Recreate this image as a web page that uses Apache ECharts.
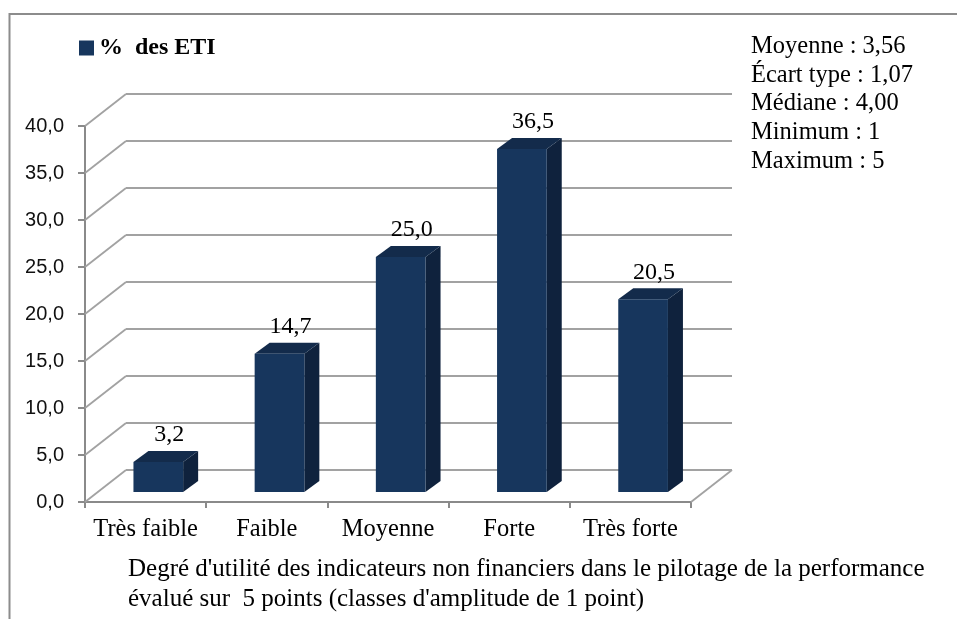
<!DOCTYPE html>
<html>
<head>
<meta charset="utf-8">
<script src="https://cdn.jsdelivr.net/npm/echarts@6/dist/echarts.min.js"></script>
<style>
  html, body { margin: 0; padding: 0; background: #fff; }
  #chart { width: 957px; height: 619px; }
</style>
</head>
<body>
<div id="chart"></div>
<script>
// Data
const categories = ['Très faible', 'Faible', 'Moyenne', 'Forte', 'Très forte'];
const shares = [3.2, 14.7, 25.0, 36.5, 20.5];
const yTicks = [0, 5, 10, 15, 20, 25, 30, 35, 40];
const seriesName = '%  des ETI';
const statLines = [
  'Moyenne : 3,56',
  'Écart type : 1,07',
  'Médiane : 4,00',
  'Minimum : 1',
  'Maximum : 5'
];
const axisTitle = [
  "Degré d'utilité des indicateurs non financiers dans le pilotage de la performance",
  "évalué sur  5 points (classes d'amplitude de 1 point)"
];

// Perspective offsets for the pseudo-3D look
const WALL_DX = 41, WALL_DY = -32;     // front plane -> back wall
const BAR_FX = 12.7, BAR_FY = -10;     // front plane -> bar front face
const BAR_DX = 15, BAR_DY = -11;       // bar depth
const BAR_RATIO = 0.41;                // bar width / category band

const GRID_COLOR = '#a2a2a2';
const AXIS_COLOR = '#8a8a8a';
const FRONT = '#17365d';
const SIDE = '#0f223d';
const TOP = '#132b4b';
const SERIF = '"Liberation Serif", "Times New Roman", serif';
const SANS = '"Liberation Sans", Arial, sans-serif';

const fmt = v => v.toFixed(1).replace('.', ',');

const chart = echarts.init(document.getElementById('chart'), null, { renderer: 'canvas' });

function renderWalls(params, api) {
  const v = api.value(1);
  const band = api.size([1, 0])[0];
  const n = categories.length;
  const left = api.coord([0, v]);
  const right = api.coord([n - 1, v]);
  const lx = left[0] - band / 2, ly = left[1];
  const rx = right[0] + band / 2;
  const style = { stroke: GRID_COLOR, lineWidth: 1.8, fill: null };
  const children = [
    { type: 'line', shape: { x1: lx, y1: ly, x2: lx + WALL_DX, y2: ly + WALL_DY }, style },
    { type: 'line', shape: { x1: lx + WALL_DX, y1: ly + WALL_DY, x2: rx + WALL_DX, y2: ly + WALL_DY }, style }
  ];
  if (v === 0) {
    children.push({ type: 'line', shape: { x1: rx, y1: ly, x2: rx + WALL_DX, y2: ly + WALL_DY }, style });
  }
  return { type: 'group', children };
}

function renderBar(params, api) {
  const i = api.value(0);
  const v = api.value(1);
  const top = api.coord([i, v]);
  const base = api.coord([i, 0]);
  const band = api.size([1, 0])[0];
  const w = band * BAR_RATIO;
  const x0 = top[0] - w / 2 + BAR_FX;
  const x1 = x0 + w;
  const yT = top[1] + BAR_FY;
  const yB = base[1] + BAR_FY;
  return {
    type: 'group',
    children: [
      { type: 'polygon', shape: { points: [[x1, yT], [x1 + BAR_DX, yT + BAR_DY], [x1 + BAR_DX, yB + BAR_DY], [x1, yB]] }, style: { fill: SIDE } },
      { type: 'polygon', shape: { points: [[x0, yT], [x0 + BAR_DX, yT + BAR_DY], [x1 + BAR_DX, yT + BAR_DY], [x1, yT]] }, style: { fill: TOP } },
      { type: 'rect', shape: { x: x0, y: yT, width: w, height: yB - yT }, style: { fill: FRONT } },
      {
        type: 'text',
        style: {
          x: (x0 + x1) / 2 + 11, y: yT + BAR_DY - 4,
          text: fmt(v), font: '24px ' + SERIF, fill: '#000',
          align: 'center', verticalAlign: 'bottom'
        }
      }
    ]
  };
}

const option = {
  animation: false,
  backgroundColor: '#fff',
  grid: { left: 85, right: 266, top: 126, bottom: 117, containLabel: false },
  legend: {
    left: 74, top: 31,
    itemWidth: 15, itemHeight: 15, itemGap: 6,
    icon: 'rect',
    data: [seriesName],
    textStyle: { fontFamily: SERIF, fontWeight: 'bold', fontSize: 24, color: '#000' }
  },
  xAxis: {
    type: 'category',
    data: categories,
    boundaryGap: true,
    axisLine: { show: true, lineStyle: { color: AXIS_COLOR, width: 2 } },
    axisTick: { show: true, length: 6, lineStyle: { color: AXIS_COLOR, width: 2 } },
    axisLabel: { interval: 0, margin: 15, fontFamily: SERIF, fontSize: 24.5, color: '#000' },
    splitLine: { show: false }
  },
  yAxis: {
    type: 'value',
    min: 0, max: 40, interval: 5,
    axisLine: { show: true, lineStyle: { color: AXIS_COLOR, width: 2 } },
    axisTick: { show: true, length: 7, lineStyle: { color: AXIS_COLOR, width: 2 } },
    axisLabel: { margin: 21, fontFamily: SANS, fontSize: 20, color: '#111', formatter: fmt },
    splitLine: { show: false }
  },
  series: [
    {
      name: 'walls',
      type: 'custom',
      renderItem: renderWalls,
      encode: { x: 0, y: 1 },
      data: yTicks.map(v => [0, v]),
      silent: true,
      z: 1
    },
    {
      name: seriesName,
      type: 'custom',
      renderItem: renderBar,
      encode: { x: 0, y: 1 },
      itemStyle: { color: FRONT },
      data: shares.map((v, i) => [i, v]),
      z: 5
    }
  ],
  graphic: [
    {
      type: 'polyline',
      shape: { points: [[9.5, 619], [9.5, 14], [957, 14]] },
      style: { stroke: '#8c8c8c', lineWidth: 2, fill: null },
      silent: true
    },
    {
      type: 'text',
      left: 751, top: 32,
      style: {
        text: statLines.join('\n'),
        font: '24.5px ' + SERIF, fill: '#000', lineHeight: 28.75
      }
    },
    {
      type: 'text',
      left: 128, top: 554,
      style: {
        text: axisTitle.join('\n'),
        font: '25px ' + SERIF, fill: '#000', lineHeight: 30
      }
    }
  ]
};

chart.setOption(option);
</script>
</body>
</html>
